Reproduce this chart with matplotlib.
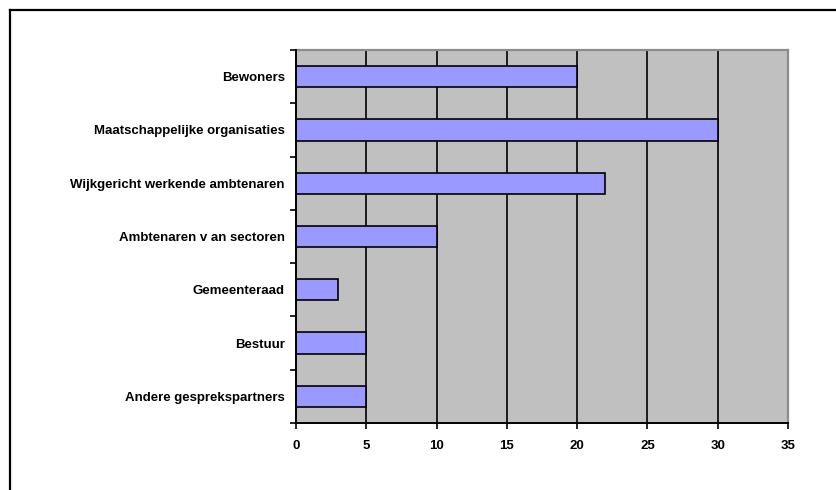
import matplotlib
matplotlib.use("Agg")
import matplotlib.pyplot as plt
from matplotlib.lines import Line2D
import numpy as np

categories = [
    "Bewoners",
    "Maatschappelijke organisaties",
    "Wijkgericht werkende ambtenaren",
    "Ambtenaren v an sectoren",
    "Gemeenteraad",
    "Bestuur",
    "Andere gesprekspartners",
]
values = [20, 30, 22, 10, 3, 5, 5]
x_ticks = [0, 5, 10, 15, 20, 25, 30, 35]

plt.rcParams["font.family"] = ["Liberation Sans", "DejaVu Sans"]

W, H = 837, 490
fig = plt.figure(figsize=(W / 100, H / 100), dpi=100)

# outer chart frame (top and left edges)
fig.add_artist(Line2D([10 / W, 1.0], [1 - 10 / H, 1 - 10 / H], color="black", lw=1.6,
                      transform=fig.transFigure))
fig.add_artist(Line2D([10 / W, 10 / W], [1 - 10 / H, 0.0], color="black", lw=1.6,
                      transform=fig.transFigure))

left, right, top, bottom = 296, 788, 50, 423
ax = fig.add_axes([left / W, 1 - bottom / H, (right - left) / W, (bottom - top) / H])
ax.set_facecolor("#C0C0C0")

n = len(categories)
y = np.arange(n)
ax.barh(y, values, height=0.4, color="#9999FF", edgecolor="black", linewidth=1.2, zorder=3)

ax.set_xlim(0, 35)
ax.set_ylim(n - 0.5, -0.5)

# vertical gridlines
for v in x_ticks[1:-1]:
    ax.axvline(v, color="black", lw=1.2, zorder=1)

ax.set_xticks(x_ticks)
ax.set_xticklabels([str(v) for v in x_ticks], fontsize=9.5, fontweight="bold")
ax.set_yticks(y)
ax.set_yticklabels(categories, fontsize=9.5, fontweight="bold")
ax.tick_params(axis="y", which="major", length=0, pad=8)
ax.set_yticks(np.arange(-0.5, n, 1.0), minor=True)
ax.tick_params(axis="y", which="minor", length=4, width=1.2, direction="out")
ax.tick_params(axis="x", which="major", length=4, width=1.2, direction="out", pad=8)

for s in ("left", "bottom"):
    ax.spines[s].set_color("black")
    ax.spines[s].set_linewidth(1.4)
    ax.spines[s].set_zorder(4)
for s in ("top", "right"):
    ax.spines[s].set_color("#8C8C8C")
    ax.spines[s].set_linewidth(1.6)

fig.savefig("out.png", dpi=100, facecolor="white")
